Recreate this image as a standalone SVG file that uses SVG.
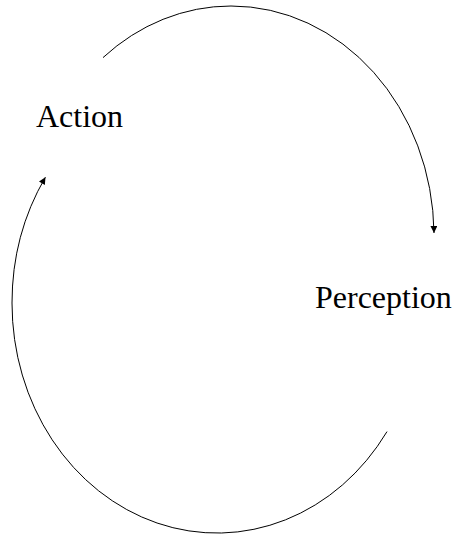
<svg xmlns="http://www.w3.org/2000/svg" width="454" height="536" viewBox="0 0 454 536">
<defs>
<marker id="ah" viewBox="0 0 10 10" refX="10" refY="5" markerWidth="8" markerHeight="7" markerUnits="userSpaceOnUse" orient="auto">
<path d="M0,0 L10,5 L0,10 z" fill="#000"/>
</marker>
<style>
.lbl{font-family:"Liberation Serif","Times New Roman",serif;font-size:32px;fill:#000}
.arc{fill:none;stroke:#000;stroke-width:1}
</style>
</defs>
<g id="connectors">
<path class="arc" d="M103,57.6 A203,230 0 0 1 231,6 A203,230 0 0 1 434,233" marker-end="url(#ah)"/>
<path class="arc" d="M387,431.6 A205,230 0 0 1 12,303 A205,230 0 0 1 45.4,177.2" marker-end="url(#ah)"/>
</g>
<g id="action"><text class="lbl" x="36" y="127">Action</text></g>
<g id="perception"><text class="lbl" x="315" y="308">Perception</text></g>
</svg>
